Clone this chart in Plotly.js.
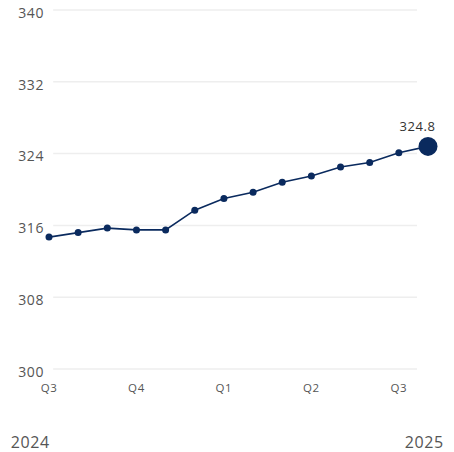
<!DOCTYPE html>
<html>
<head>
<meta charset="utf-8">
<script src="https://cdn.plot.ly/plotly-3.0.1.min.js"></script>
<style>html,body{margin:0;padding:0;background:#fff;}#chart{width:454px;height:452px;}#chart text{letter-spacing:0.6px;}</style>
</head>
<body>
<div id="chart"></div>
<script>
const months = ["2024-07","2024-08","2024-09","2024-10","2024-11","2024-12","2025-01","2025-02","2025-03","2025-04","2025-05","2025-06","2025-07","2025-08"];
const values = [314.7,315.2,315.7,315.5,315.5,317.7,319.0,319.7,320.8,321.5,322.5,323.0,324.1,324.8];
const quarterTicks = ["2024-07","2024-10","2025-01","2025-04","2025-07"];
const quarterLabels = ["Q3","Q4","Q1","Q2","Q3"];
const yTicks = [300,308,316,324,332,340];
const yearLabels = ["2024","2025"];

const navy = "#0a2a5e";
const font = "'Open Sans', sans-serif";
const last = values.length - 1;

const traces = [
  {x: months, y: values, type: "scatter", mode: "lines+markers",
   line: {color: navy, width: 1.6}, marker: {color: navy, size: 7},
   cliponaxis: false, hoverinfo: "skip"},
  {x: [months[last]], y: [values[last]], type: "scatter", mode: "markers",
   marker: {color: navy, size: 19}, cliponaxis: false, hoverinfo: "skip"}
];

const shapes = yTicks.map(v => ({type: "line", xref: "paper", yref: "y",
  x0: 0.011, x1: 0.971, y0: v, y1: v, line: {color: "#eeeeee", width: 1.5}, layer: "below"}));

const layout = {
  width: 454, height: 452,
  margin: {l: 49, r: 26, t: 9, b: 82},
  paper_bgcolor: "#fff", plot_bgcolor: "#fff",
  showlegend: false,
  font: {family: font, color: "#555"},
  xaxis: {type: "category", range: [0, last], tickvals: quarterTicks, ticktext: quarterLabels,
          showgrid: false, zeroline: false, showline: false, ticks: "",
          tickfont: {size: 11.5, color: "#555", family: font}, ticklabelstandoff: 9, fixedrange: true},
  yaxis: {range: [299.9, 340.1], tickvals: yTicks, showgrid: false, zeroline: false, showline: false,
          ticks: "", tickfont: {size: 14, color: "#555", family: font}, ticklabelstandoff: 4,
          ticklabelshift: 3, fixedrange: true},
  shapes: shapes,
  annotations: [
    {x: months[last], y: values[last], xref: "x", yref: "y", text: values[last].toFixed(1),
     showarrow: false, xanchor: "center", yanchor: "bottom", xshift: -11, yshift: 9,
     font: {size: 13, color: "#333", family: font}},
    {x: -0.103, y: -0.199, xref: "paper", yref: "paper", text: yearLabels[0], showarrow: false,
     xanchor: "left", yanchor: "middle", font: {size: 16, color: "#555", family: font}},
    {x: 1.0, y: -0.199, xref: "paper", yref: "paper", text: yearLabels[1], showarrow: false,
     xanchor: "right", yanchor: "middle", xshift: 17, font: {size: 16, color: "#555", family: font}}
  ]
};

Plotly.newPlot("chart", traces, layout, {displayModeBar: false, staticPlot: true});
</script>
</body>
</html>
